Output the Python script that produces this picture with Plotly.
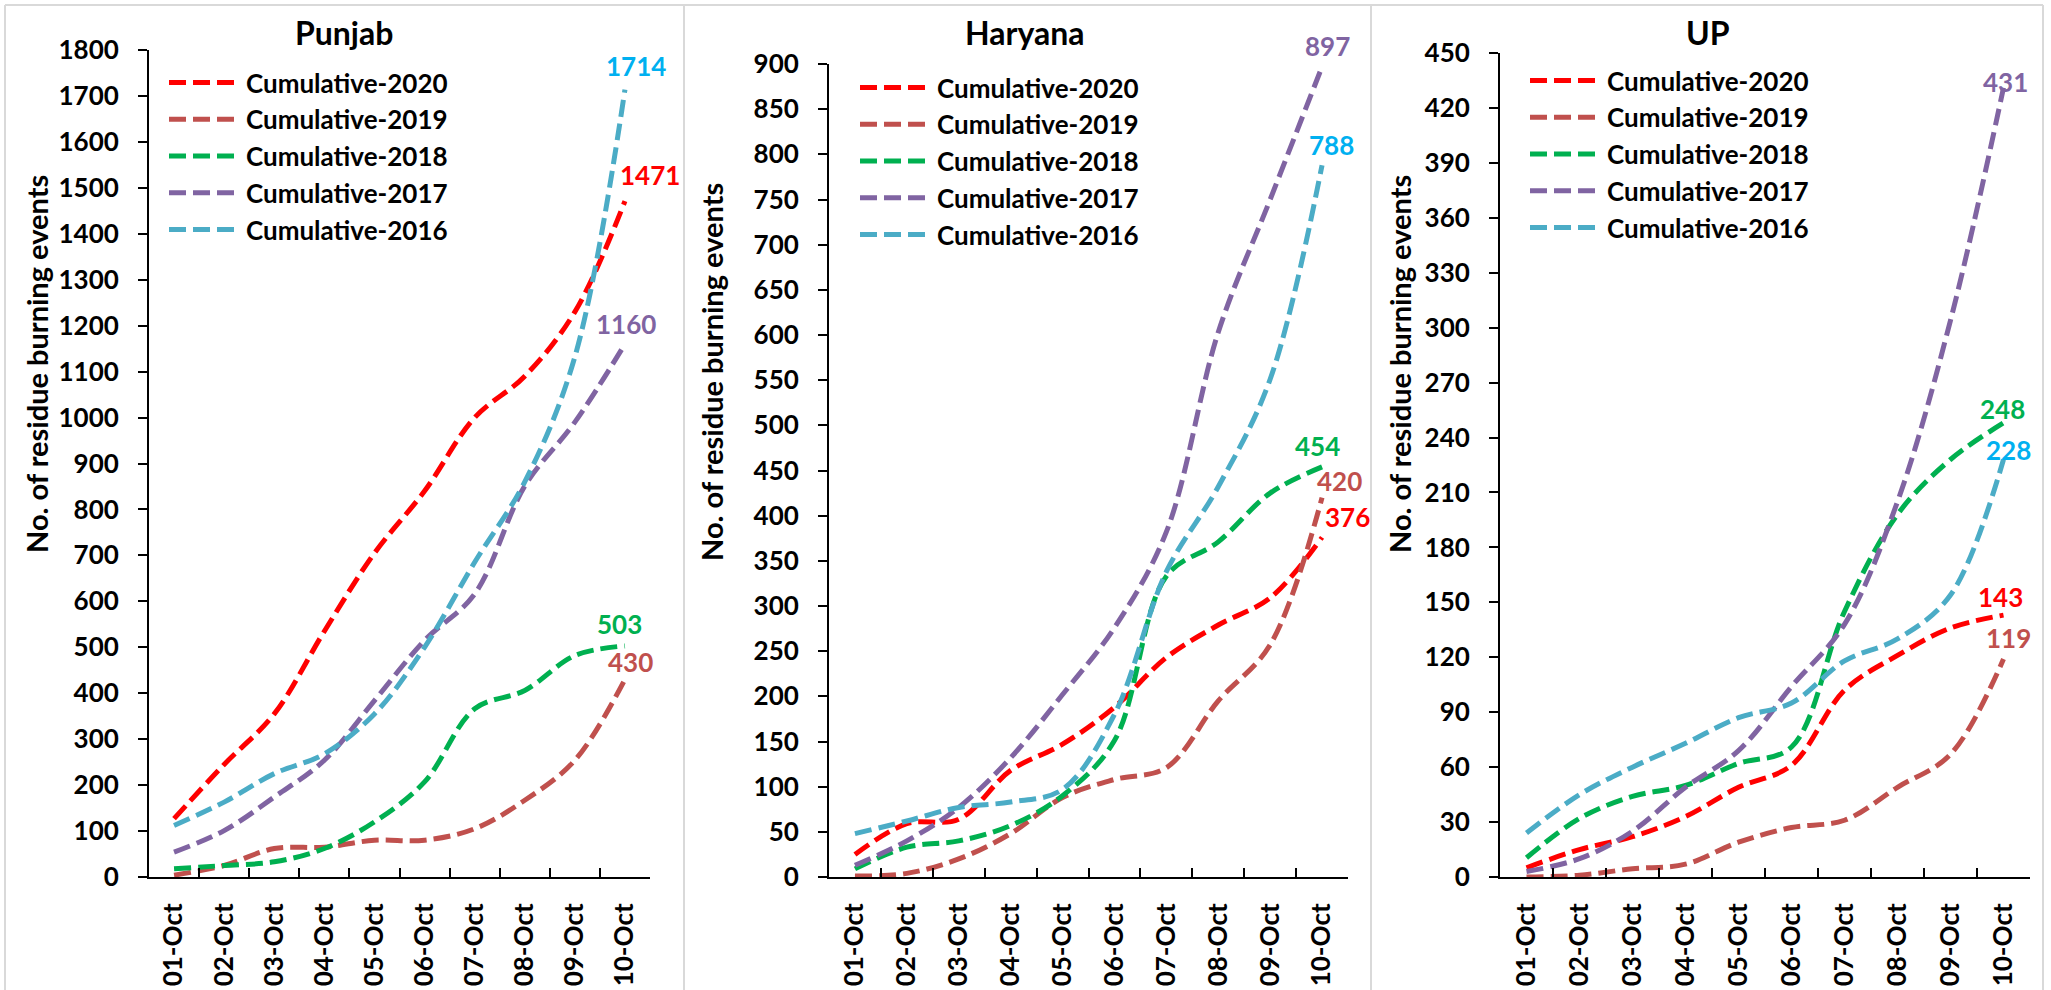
import plotly.graph_objects as go

W, H = 2051, 990

dates = ["01-Oct", "02-Oct", "03-Oct", "04-Oct", "05-Oct",
         "06-Oct", "07-Oct", "08-Oct", "09-Oct", "10-Oct"]
series_names = ["Cumulative-2020", "Cumulative-2019", "Cumulative-2018",
                "Cumulative-2017", "Cumulative-2016"]

punjab_2020 = [127, 245, 355, 535, 705, 840, 1000, 1090, 1230, 1471]
punjab_2019 = [4, 25, 62, 65, 80, 80, 105, 167, 254, 430]
punjab_2018 = [18, 25, 33, 62, 120, 207, 366, 406, 482, 503]
punjab_2017 = [54, 101, 174, 254, 384, 515, 616, 851, 990, 1160]
punjab_2016 = [112, 163, 225, 268, 355, 500, 685, 860, 1132, 1714]

haryana_2020 = [25, 59, 64, 118, 147, 188, 243, 279, 309, 376]
haryana_2019 = [1, 4, 20, 48, 88, 108, 121, 195, 257, 420]
haryana_2018 = [9, 33, 40, 57, 90, 151, 333, 371, 425, 454]
haryana_2017 = [13, 40, 77, 132, 202, 276, 382, 603, 750, 897]
haryana_2016 = [48, 62, 77, 83, 97, 180, 338, 432, 551, 788]

up_2020 = [5, 15, 22, 33, 49, 61, 102, 121, 136, 143]
up_2019 = [0, 1, 4.5, 7, 19, 27, 31, 49, 67, 119]
up_2018 = [10.5, 32, 44, 50, 62, 71, 145, 198, 228, 248]
up_2017 = [3, 10, 25, 49, 69, 104, 138, 205, 304, 431]
up_2016 = [24, 45, 60, 73, 87, 95, 118, 130, 154, 228]

line_colors = ["#FF0000", "#C0504D", "#00B050", "#8064A2", "#4BACC6"]
label_colors = ["#FF0000", "#C0504D", "#00B050", "#8064A2", "#00B0F0"]

panels = [
    dict(title="Punjab", data=[punjab_2020, punjab_2019, punjab_2018, punjab_2017, punjab_2016],
         ymax=1800, dtick=100, x0=149, x1=650, ytop=50,
         shifts=[(25, 26), (6, 17), (-5, 22), (1, 20), (11, 24)],
         title_x=344, ytitle_x=37, ytitle_y=364, legend_x=164, legend_y=59),
    dict(title="Haryana", data=[haryana_2020, haryana_2019, haryana_2018, haryana_2017, haryana_2016],
         ymax=900, dtick=50, x0=829, x1=1348, ytop=64,
         shifts=[(25, 20), (17, 17), (-5, 21), (5, 21), (9, 20)],
         title_x=1024, ytitle_x=711, ytitle_y=372, legend_x=855, legend_y=64),
    dict(title="UP", data=[up_2020, up_2019, up_2018, up_2017, up_2016],
         ymax=450, dtick=30, x0=1500, x1=2030, ytop=53,
         shifts=[(-3, 18), (5, 21), (-1, 14), (2, 6), (5, 10)],
         title_x=1708, ytitle_x=1400, ytitle_y=364, legend_x=1525, legend_y=57),
]

FONT = "Lato"
Y0 = 877  # pixel row of value 0

fig = go.Figure()
annotations = []
layout_axes = {}

for i, p in enumerate(panels):
    k = "" if i == 0 else str(i + 1)
    leg = "legend" if i == 0 else f"legend{i + 1}"
    for j, (name, vals) in enumerate(zip(series_names, p["data"])):
        fig.add_trace(go.Scatter(
            x=dates, y=vals, name=name, mode="lines",
            line=dict(color=line_colors[j], width=5, dash="17px,7px",
                      shape="spline", smoothing=1.0),
            xaxis=f"x{k}", yaxis=f"y{k}", legend=leg,
            legendgroup=f"{i}-{j}", hoverinfo="x+y+name",
        ))
        dx, dy = p["shifts"][j]
        annotations.append(dict(
            x=dates[-1], y=vals[-1], xref=f"x{k}", yref=f"y{k}",
            text=str(vals[-1]), showarrow=False, xshift=dx, yshift=dy,
            font=dict(family=FONT, size=26, color=label_colors[j], weight="bold"),
        ))
    layout_axes[f"xaxis{k}"] = dict(
        domain=[p["x0"] / W, p["x1"] / W], anchor=f"y{k}", automargin=False,
        type="category", range=[-0.5, 9.5], tickson="boundaries",
        ticks="inside", ticklen=9, tickwidth=2, tickcolor="#000000",
        showline=True, linecolor="#000000", linewidth=2,
        tickangle=-90, ticklabelstandoff=14,
        tickfont=dict(family=FONT, size=26, color="#000000", weight="bold"),
        showgrid=False, zeroline=False, fixedrange=True,
    )
    layout_axes[f"yaxis{k}"] = dict(
        domain=[1 - Y0 / H, 1 - p["ytop"] / H], anchor=f"x{k}", automargin=False,
        range=[0, p["ymax"]], dtick=p["dtick"], tick0=0,
        ticks="outside", ticklen=9, tickwidth=2, tickcolor="#000000",
        showline=True, linecolor="#000000", linewidth=2,
        ticklabelstandoff=14,
        tickfont=dict(family=FONT, size=26, color="#000000", weight="bold"),
        showgrid=False, zeroline=False, fixedrange=True,
    )
    layout_axes[leg] = dict(
        x=p["legend_x"] / W, y=1 - p["legend_y"] / H, xanchor="left", yanchor="top",
        bgcolor="rgba(0,0,0,0)", font=dict(family=FONT, size=26, color="#000000", weight="bold"),
        tracegroupgap=7, traceorder="normal", itemwidth=72,
    )
    annotations.append(dict(
        x=p["title_x"] / W, y=1 - 33 / H, xref="paper", yref="paper",
        text=p["title"], showarrow=False, xanchor="center", yanchor="middle",
        font=dict(family=FONT, size=32, color="#000000", weight="bold"),
    ))
    annotations.append(dict(
        x=p["ytitle_x"] / W, y=1 - p["ytitle_y"] / H, xref="paper", yref="paper",
        text="No. of residue burning events", showarrow=False, textangle=-90,
        xanchor="center", yanchor="middle",
        font=dict(family=FONT, size=29, color="#000000", weight="bold"),
    ))

# light grey frames of the three chart panels
shapes = []
for xs in [5, 684, 1371, 2043]:
    shapes.append(dict(type="line", xref="paper", yref="paper",
                       x0=xs / W, x1=xs / W, y0=0, y1=1 - 5 / H,
                       line=dict(color="#D9D9D9", width=2)))
shapes.append(dict(type="line", xref="paper", yref="paper",
                   x0=5 / W, x1=2043 / W, y0=1 - 5 / H, y1=1 - 5 / H,
                   line=dict(color="#D9D9D9", width=2)))

fig.update_layout(
    width=W, height=H, autosize=False,
    margin=dict(l=0, r=0, t=0, b=0, pad=0),
    paper_bgcolor="#FFFFFF", plot_bgcolor="rgba(0,0,0,0)",
    showlegend=True, annotations=annotations, shapes=shapes,
    **layout_axes,
)

fig.write_html("out.html", config={"displayModeBar": False},
               post_script="document.body.style.margin='0';")
